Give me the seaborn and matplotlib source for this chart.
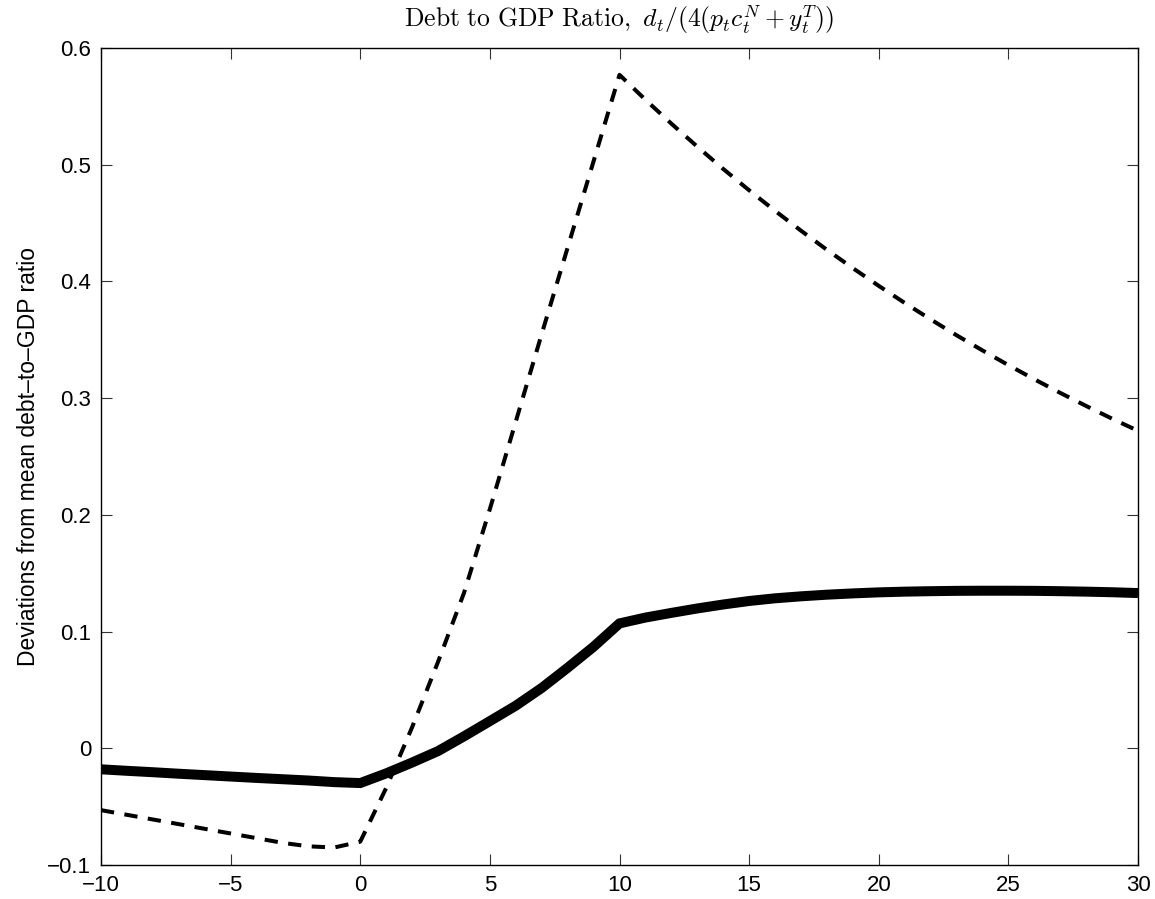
import numpy as np
import pandas as pd
import matplotlib
matplotlib.use("Agg")
import matplotlib.pyplot as plt
import seaborn as sns

# ---- data ----
periods = list(range(-10, 31))
solid_vals = [-0.0180, -0.0193, -0.0205, -0.0218, -0.0230, -0.0242, -0.0254, -0.0265, -0.0276, -0.0290, -0.0298,
              -0.0215, -0.0122, -0.0024, 0.0102, 0.0233, 0.0365, 0.0517, 0.0690, 0.0870, 0.1070,
              0.1120, 0.1160, 0.1198, 0.1232, 0.1262, 0.1285, 0.1302, 0.1316, 0.1327, 0.1336,
              0.1342, 0.1346, 0.1349, 0.1350, 0.1350, 0.1349, 0.1346, 0.1342, 0.1337, 0.1330]
dashed_vals = [-0.053, -0.057, -0.061, -0.065, -0.069, -0.073, -0.077, -0.081, -0.084, -0.085, -0.080,
               -0.034, 0.018, 0.074, 0.133, 0.205, 0.280, 0.355, 0.429, 0.503, 0.577,
               0.5557, 0.5352, 0.5155, 0.4964, 0.4781, 0.4605, 0.4435, 0.4271, 0.4114, 0.3962,
               0.3816, 0.3675, 0.3539, 0.3409, 0.3283, 0.3162, 0.3045, 0.2933, 0.2824, 0.2720]
x_ticks = [-10, -5, 0, 5, 10, 15, 20, 25, 30]
x_tick_labels = ["\u221210", "\u22125", "0", "5", "10", "15", "20", "25", "30"]
y_ticks = [-0.1, 0.0, 0.1, 0.2, 0.3, 0.4, 0.5, 0.6]
y_tick_labels = ["\u22120.1", "0", "0.1", "0.2", "0.3", "0.4", "0.5", "0.6"]
title_text = r"$\mathrm{Debt\ to\ GDP\ Ratio,}\ d_t/(4(p_tc_t^N+y_t^T))$"
ylabel_text = "Deviations from mean debt\u2013to\u2013GDP ratio"

df = pd.DataFrame({"t": periods, "solid": solid_vals, "dashed": dashed_vals})

sns.set_theme(style="white")
plt.rcParams["font.family"] = ["Liberation Sans", "DejaVu Sans"]
plt.rcParams["mathtext.fontset"] = "cm"

fig = plt.figure(figsize=(11.55, 8.99), dpi=100)
ax = fig.add_axes([101 / 1155, 34 / 899, 1037 / 1155, 817 / 899])

sns.lineplot(data=df, x="t", y="solid", ax=ax, color="black", linewidth=7.2,
             solid_joinstyle="miter", solid_capstyle="butt")
sns.lineplot(data=df, x="t", y="dashed", ax=ax, color="black", linewidth=2.9,
             linestyle=(0, (3.3, 2.6)), dash_capstyle="butt")

ax.set_xlim(-10, 30)
ax.set_ylim(-0.1, 0.6)
ax.set_xticks(x_ticks)
ax.set_xticklabels(x_tick_labels)
ax.set_yticks(y_ticks)
ax.set_yticklabels(y_tick_labels)
ax.tick_params(direction="in", length=8, width=0.8, color="#333333",
               top=True, right=True, bottom=True, left=True,
               labelsize=16, pad=7, labelcolor="black")
for s in ax.spines.values():
    s.set_color("black")
    s.set_linewidth(1.0)
ax.set_xlabel("")
ax.set_ylabel(ylabel_text, fontsize=16.5, labelpad=5, color="black")
ax.set_title(title_text, fontsize=18.5, pad=15, color="black")
ax.grid(False)

fig.savefig("out.png", dpi=100, facecolor="white")
